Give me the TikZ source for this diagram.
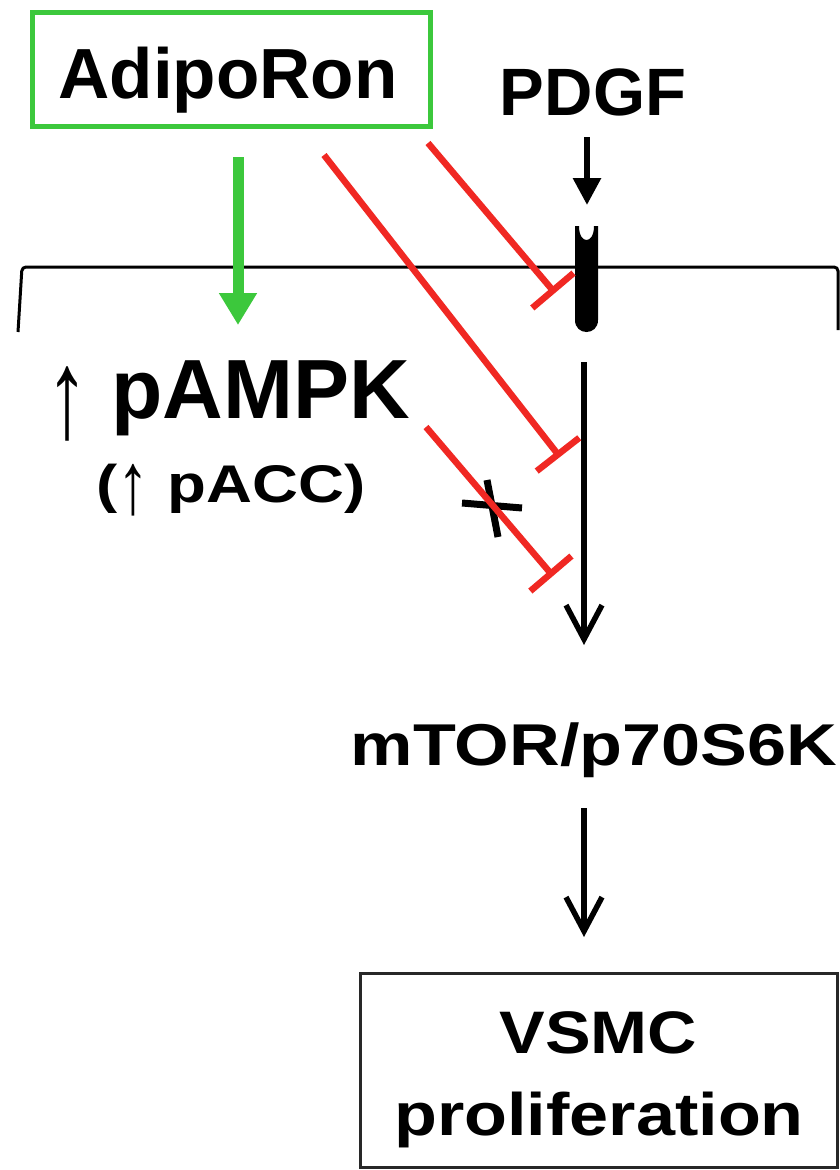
\documentclass[tikz,border=0pt]{standalone}
\usepackage{fontspec}
\usepackage{graphicx}
\setmainfont{Liberation Sans}
\usetikzlibrary{arrows.meta}
\definecolor{agreen}{RGB}{60,200,60}
\definecolor{ired}{RGB}{240,40,35}
\definecolor{boxgray}{RGB}{40,40,40}
\begin{document}
\begin{tikzpicture}[x=1pt,y=-1pt,
  lbl/.style={inner sep=0pt, anchor=base},
  fsz/.style={font={\fontsize{#1}{#1}\selectfont\bfseries}},
  actarrow/.style={line width=5.5pt, -{Straight Barb[width=36pt,length=34pt]}},
  inhib/.style={draw=ired, line width=6.5pt, -{Bar[width=54pt]}},
  greenarrow/.style={draw=agreen, line width=11pt, -{Triangle[width=36pt,length=32pt]}},
  pdgfarrow/.style={line width=6pt, -{Triangle[width=27pt,length=27pt]}},
  membrane/.style={line width=3pt, rounded corners=4pt},
  crossmark/.style={line width=7pt}
]
\useasboundingbox (0,0) rectangle (840,1170);
\fill[white] (0,0) rectangle (840,1170);

% AdipoRon box and text
\node[draw=agreen, line width=5pt, minimum width=398pt, minimum height=114pt, inner sep=0pt] (adipo) at (231,69) {};
\node[lbl, fsz=71] (adipotxt) at (228,98) {AdipoRon};

% PDGF
\node[lbl, fsz=67] (pdgf) at (593,115) {PDGF};

% membrane
\draw[membrane] (18,332) -- (22,267) -- (838,267) -- (838,330);

% receptor
\fill (575,226) -- (575,320) .. controls (575,336) and (598,336) .. (598,320) -- (598,226) -- (594,226)
  .. controls (594,236) and (590,240) .. (586.5,240) .. controls (583,240) and (579,236) .. (579,226) -- cycle;

% coordinates
\coordinate (pdgfS) at (587,137);
\coordinate (pdgfE) at (587,205);
\coordinate (gS) at (238,157);
\coordinate (gE) at (238,325);
\coordinate (r1S) at (428,143);
\coordinate (r1E) at (555,293);
\coordinate (r2S) at (324,155);
\coordinate (r2E) at (560,457);
\coordinate (r3S) at (426,427);
\coordinate (r3E) at (553,576);
\coordinate (m1S) at (584,362);
\coordinate (m1E) at (584,645);
\coordinate (m2S) at (584,808);
\coordinate (m2E) at (584,937);

% pAMPK
\node[lbl, anchor=base west, fsz=84] (ampk) at (46,418) {{\mdseries\raisebox{-19pt}{\scalebox{1}[1.5]{↑}}} pAMPK};
\node[lbl, fsz=53] (acc) at (231,502) {\scalebox{1.2}[1]{({\mdseries\raisebox{-11pt}{\scalebox{1}[1.65]{↑}}} pACC)}};

% mTOR
\node[lbl, fsz=59] (mtor) at (594,765) {\scalebox{1.19}[1]{mTOR/p70S6K}};

% VSMC box
\node[draw=boxgray, line width=3pt, minimum width=477pt, minimum height=194pt, inner sep=0pt] (vsmc) at (599,1070.5) {};
\node[lbl, fsz=60] (vsmc1) at (598.5,1053) {\scalebox{1.14}[1]{VSMC}};
\node[lbl, fsz=60] (vsmc2) at (599,1135) {\scalebox{1.17}[1]{proliferation}};

% cross mark (under the red line)
\draw[crossmark] (462,503) -- (522,508);
\draw[crossmark] (487,480) -- (498,537);

% arrows
\draw[pdgfarrow] (pdgfS) -- (pdgfE);
\draw[greenarrow] (gS) -- (gE);
\draw[actarrow] (m1S) -- (m1E);
\draw[actarrow] (m2S) -- (m2E);
\draw[inhib] (r1S) -- (r1E);
\draw[inhib] (r2S) -- (r2E);
\draw[inhib] (r3S) -- (r3E);
\end{tikzpicture}
\end{document}
